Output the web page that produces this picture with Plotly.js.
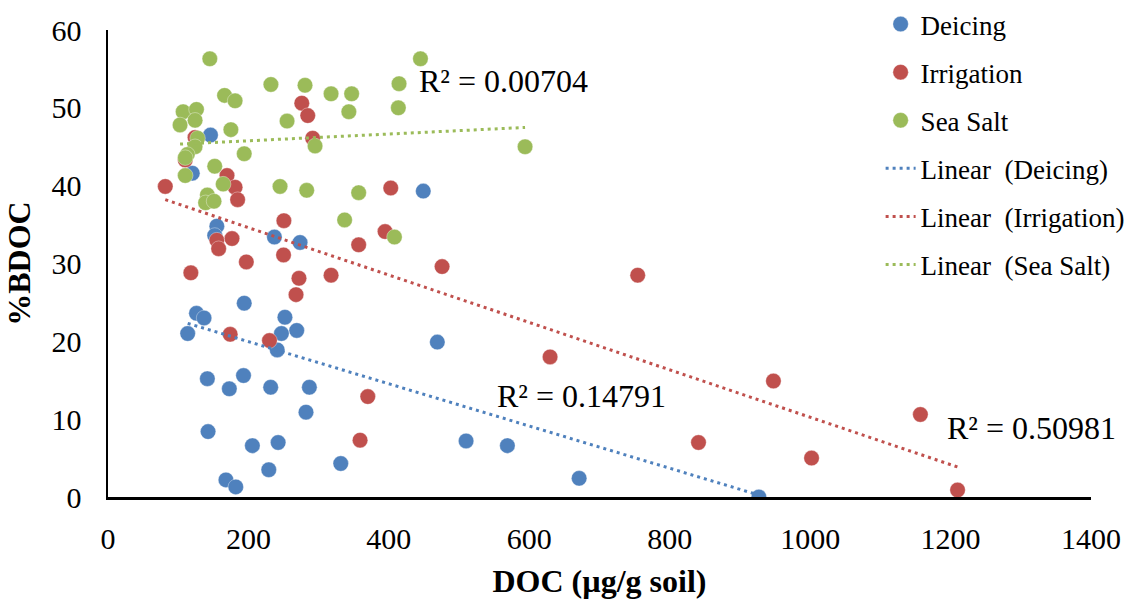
<!DOCTYPE html>
<html><head><meta charset="utf-8">
<script src="https://cdn.plot.ly/plotly-3.0.1.min.js"></script>
<style>html,body{margin:0;padding:0;background:#fff}#chart{width:1129px;height:601px}</style>
</head><body><div id="chart"></div>
<script>
// Deicing
const deicingX = [146,120,155,152,237,273.5,449,194,126,136.8,113.5,252,247,268.8,241,469,141.5,172.8,193,231.7,286.8,282,142.5,205.6,242.3,229,168,182,331.5,510,568.8,671,927];
const deicingY = [46.5,41.6,34.8,33.6,33.4,32.7,39.3,24.9,23.6,23.0,21.0,23.1,21.0,21.4,18.9,19.9,15.2,13.9,15.6,14.1,14.1,10.9,8.4,6.6,7.0,3.5,2.2,1.3,4.3,7.2,6.6,2.4,0];
// Irrigation
const irrigationX = [124,110,169.5,81.6,181,184.6,155,157.6,176.6,197,118,250.5,250,174,230,276,284.5,291.5,402.7,394.6,357,272,317.7,267.8,475.8,370,359,754.4,629.6,841,947.7,1157,1002,1210];
const irrigationY = [46.2,43.3,41.3,39.9,39.8,38.2,33.0,31.9,33.2,30.2,28.8,35.5,31.1,20.9,20.1,50.6,49.0,46.1,39.7,34.1,32.4,28.1,28.5,26.0,29.6,12.9,7.3,28.5,18.0,7.0,14.9,10.6,5.0,0.9];
// Sea Salt
const seaSaltX = [145,232,166,181,107,126,124,102.6,255,175,127.6,124,113,110,194,152,110,164,245,141.5,139,151,445,280.6,317.7,347,414.5,343,413.5,294.9,283,357,337,408,594];
const seaSaltY = [56.3,53.0,51.6,50.9,49.5,49.8,48.4,47.8,48.3,47.2,46.1,45.0,44.0,43.6,44.1,42.5,41.3,40.2,39.9,38.8,37.8,38.0,56.3,52.9,51.8,51.8,53.1,49.5,50.0,45.1,39.4,39.1,35.6,33.4,45.0];

const seriesNames = ['Deicing','Irrigation','Sea Salt'];
const trendNames = ['Linear  (Deicing)','Linear  (Irrigation)','Linear  (Sea Salt)'];
const r2Labels = ['R² = 0.14791','R² = 0.50981','R² = 0.00704'];
const xTicks = [0,200,400,600,800,1000,1200,1400];
const yTicks = [0,10,20,30,40,50,60];

const colors = ['#4F81BD','#C0504D','#9BBB59'];
const xs = [deicingX, irrigationX, seaSaltX];
const ys = [deicingY, irrigationY, seaSaltY];

function fit(x, y){
  const n = x.length;
  let sx=0, sy=0, sxx=0, sxy=0;
  for(let i=0;i<n;i++){sx+=x[i];sy+=y[i];sxx+=x[i]*x[i];sxy+=x[i]*y[i];}
  const b = (n*sxy - sx*sy)/(n*sxx - sx*sx);
  const a = (sy - b*sx)/n;
  const x0 = Math.min(...x), x1 = Math.max(...x);
  return {x:[x0,x1], y:[a+b*x0, a+b*x1]};
}

const font = 'Liberation Serif, Times New Roman, serif';
const traces = [];
for(let i=0;i<3;i++){
  traces.push({type:'scatter', mode:'markers', x:xs[i], y:ys[i], name:seriesNames[i],
    legendgroup:'g'+i,
    marker:{color:colors[i], size:15.5, line:{width:0.6, color:'rgba(255,255,255,0.6)'}}});
}
for(let i=0;i<3;i++){
  const f = fit(xs[i], ys[i]);
  traces.push({type:'scatter', mode:'lines', x:f.x, y:f.y, name:trendNames[i],
    legendgroup:'t'+i,
    line:{color:colors[i], width:3, dash:'3px,4px'}});
}

const layout = {
  width:1129, height:601,
  margin:{l:108, r:38, t:30, b:104, autoexpand:false},
  paper_bgcolor:'#fff', plot_bgcolor:'#fff',
  font:{family:font, color:'#000', size:27},
  showlegend:true,
  legend:{xref:'container', yref:'container', x:0.78, y:1.019, xanchor:'left', yanchor:'top',
    font:{family:font, size:27, color:'#000'}, tracegroupgap:10, bgcolor:'rgba(255,255,255,0)'},
  xaxis:{range:[0,1400], tickvals:xTicks, ticktext:xTicks.map(String), showgrid:false, zeroline:false,
    showline:true, linecolor:'#000', linewidth:2.5, ticks:'', ticklabelstandoff:13,
    tickfont:{family:font, size:30, color:'#000'},
    title:{text:'<b>DOC (µg/g soil)</b>', font:{family:font, size:32, color:'#000'}, standoff:16}},
  yaxis:{range:[0,60], tickvals:yTicks, ticktext:yTicks.map(String), showgrid:false, zeroline:false,
    showline:true, linecolor:'#000', linewidth:2.5, ticks:'', ticklabelstandoff:18,
    tickfont:{family:font, size:30, color:'#000'},
    title:{text:'<b>%BDOC</b>', font:{family:font, size:32, color:'#000'}, standoff:12}},
  annotations:[
    {x:675, y:13.0, xref:'x', yref:'y', text:r2Labels[0], showarrow:false, font:{family:font, size:32, color:'#000'}},
    {x:1315, y:8.9, xref:'x', yref:'y', text:r2Labels[1], showarrow:false, font:{family:font, size:32, color:'#000'}},
    {x:563, y:53.5, xref:'x', yref:'y', text:r2Labels[2], showarrow:false, font:{family:font, size:32, color:'#000'}}
  ]
};
Plotly.newPlot('chart', traces, layout, {displayModeBar:false, staticPlot:true});
</script></body></html>
